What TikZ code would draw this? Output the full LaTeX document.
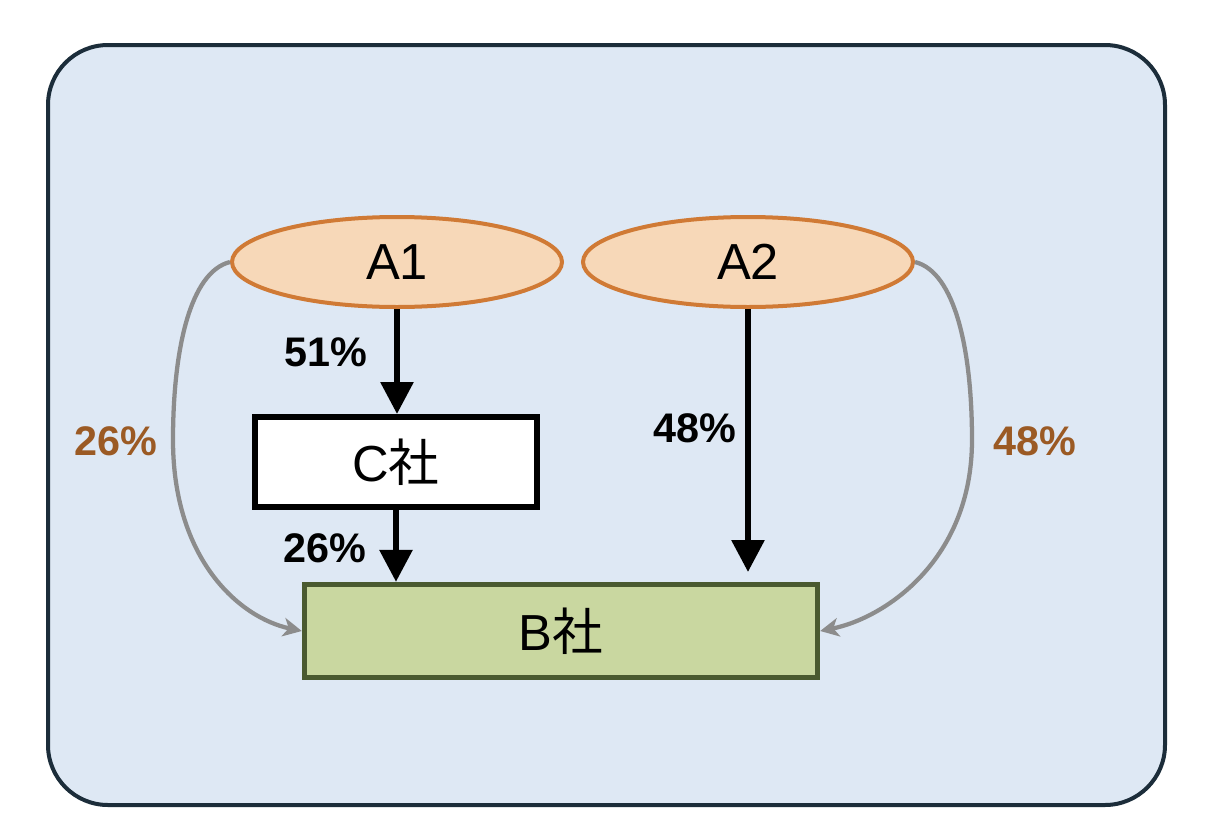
\documentclass[tikz,border=0pt]{standalone}
\usepackage{fontspec}
\setmainfont{Liberation Sans}
\newfontfamily\cjk{Noto Sans CJK JP}
\usetikzlibrary{shapes.geometric,arrows.meta}
\definecolor{bgfill}{HTML}{DEE8F4}
\definecolor{bgline}{HTML}{1C2D3A}
\definecolor{ellfill}{HTML}{F7D8B8}
\definecolor{ellline}{HTML}{D07A35}
\definecolor{bfill}{HTML}{C9D7A0}
\definecolor{bline}{HTML}{4A5A30}
\definecolor{pctorange}{HTML}{9B5A24}
\definecolor{curvegray}{HTML}{8C8C8C}
\tikzset{
  owner/.style={ellipse, draw=ellline, fill=ellfill, line width=3pt, minimum width=247.5pt, minimum height=67.5pt, inner sep=0pt, font=\fontsize{38}{42}\selectfont},
  company/.style={rectangle, draw=black, fill=white, line width=4.5pt, minimum width=212pt, minimum height=67.5pt, inner sep=0pt, font=\fontsize{38}{42}\selectfont},
  bcompany/.style={rectangle, draw=bline, fill=bfill, line width=3.75pt, minimum width=385pt, minimum height=70pt, inner sep=0pt, font=\fontsize{38}{42}\selectfont},
  pct/.style={font=\bfseries\fontsize{31}{34}\selectfont, text=black},
  pcto/.style={font=\bfseries\fontsize{31}{34}\selectfont, text=pctorange},
  mainarrow/.style={line width=4.5pt, draw=black, -{Triangle[length=24pt,width=24pt]}},
  sidearrow/.style={line width=3.2pt, draw=curvegray, -{Stealth[length=14pt,width=14pt,inset=4pt]}}
}
\begin{document}
\begin{tikzpicture}[x=0.75pt,y=-0.75pt]
\useasboundingbox (0,0) rectangle (1208,836);
\draw[bgline, fill=bgfill, line width=3pt, rounded corners=45pt] (48,45) rectangle (1165,805);
\node[owner] (a1) at (397,262) {A1};
\node[owner] (a2) at (748,262) {A2};
\node[company] (c) at (396,462) {C{\cjk 社}};
\node[bcompany] (b) at (561,631) {B{\cjk 社}};
\coordinate (a2end) at (748,572);
\draw[mainarrow] (a1.south) -- (a1.south |- c.north);
\draw[mainarrow] (c.south) -- (c.south |- b.north);
\draw[mainarrow] (a2.south) -- (a2end);
\draw[sidearrow] (a1.west) .. controls (190,272) and (173,350) .. (173,440) .. controls (173,560) and (240,618) .. (b.west);
\draw[sidearrow] (a2.east) .. controls (955,272) and (972,350) .. (972,440) .. controls (972,560) and (885,618) .. (b.east);
\node[pct] (l51) at (326,352) {51\%};
\node[pct] (l26) at (325,548) {26\%};
\node[pct] (l48) at (695,428) {48\%};
\node[pcto] (o26) at (116,441) {26\%};
\node[pcto] (o48) at (1035,441) {48\%};
\end{tikzpicture}
\end{document}
